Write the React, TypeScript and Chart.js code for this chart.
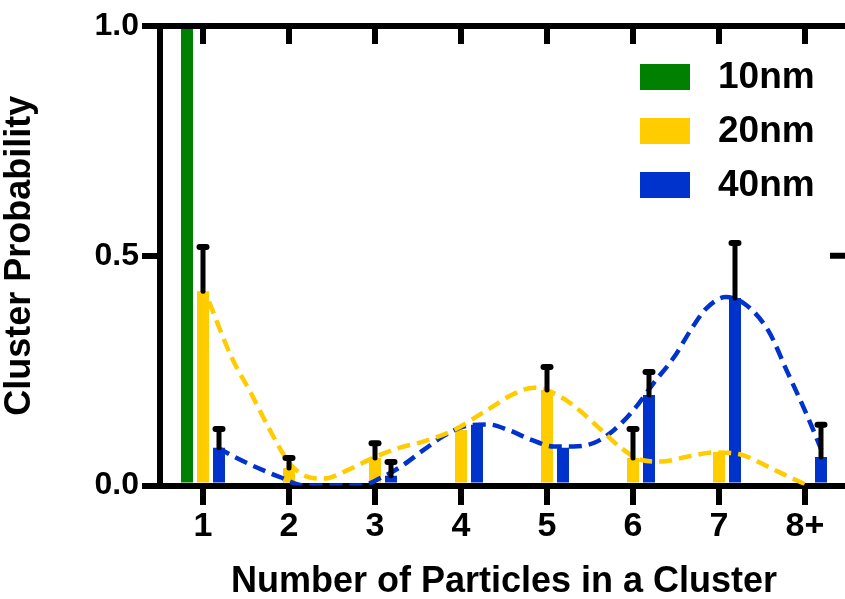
import React, { useEffect, useRef } from 'react';
import { Chart, registerables } from 'chart.js';

Chart.register(...registerables);

const categories = ['1', '2', '3', '4', '5', '6', '7', '8+'];
const categoryPositions = [1, 2, 3, 4, 5, 6, 7, 8];
const seriesLabels = ['10nm', '20nm', '40nm'];
const seriesColors = ['#008000', '#FFCC00', '#0033CC'];

const p10 = [1.0, 0, 0, 0, 0, 0, 0, 0];
const p20 = [0.423, 0.038, 0.06, 0.121, 0.208, 0.06, 0.073, 0];
const p40 = [0.082, 0, 0.021, 0.132, 0.082, 0.197, 0.408, 0.062];

const err10 = [0, 0, 0, 0, 0, 0, 0, 0];
const err20 = [0.096, 0.022, 0.032, 0, 0.05, 0.063, 0, 0];
const err40 = [0.041, 0, 0.03, 0, 0, 0.05, 0.12, 0.07];

const yTickValues = [0, 0.5, 1];
const yTickLabels = ['0.0', '0.5', '1.0'];

// Fitted (dashed) curves: x in category units (1 = first category), y = probability
const fit20X = [1.07, 1.33, 1.56, 1.78, 2.0, 2.2, 2.4, 2.7, 3.0, 3.3, 3.55, 3.92, 4.31, 4.62, 4.85, 5.16, 5.4, 5.63, 5.86, 6.09, 6.33, 6.64, 6.94, 7.26, 7.57, 7.8, 8.0];
const fit20Y = [0.4, 0.28, 0.2, 0.12, 0.05, 0.02, 0.015, 0.035, 0.062, 0.083, 0.095, 0.121, 0.165, 0.2, 0.213, 0.193, 0.16, 0.121, 0.082, 0.056, 0.052, 0.063, 0.072, 0.067, 0.041, 0.02, 0.003];

const fit40X = [1.17, 1.41, 1.64, 1.9, 2.17, 2.5, 2.84, 3.07, 3.3, 3.57, 3.8, 4.03, 4.31, 4.55, 4.81, 5.08, 5.31, 5.55, 5.78, 6.01, 6.24, 6.48, 6.67, 6.85, 7.08, 7.3, 7.57, 7.8, 8.03, 8.19];
const fit40Y = [0.082, 0.058, 0.038, 0.018, 0, 0, 0, 0.017, 0.041, 0.078, 0.108, 0.128, 0.133, 0.121, 0.1, 0.085, 0.085, 0.093, 0.121, 0.165, 0.223, 0.28, 0.338, 0.385, 0.41, 0.395, 0.338, 0.245, 0.15, 0.078];

const FONT = "'Liberation Sans', Arial, Helvetica, sans-serif";

const errorBarPlugin = {
  id: 'errorBars',
  afterDatasetsDraw(chart: any) {
    const ctx = chart.ctx;
    const y = chart.scales.y;
    chart.data.datasets.forEach((ds: any, i: number) => {
      if (!ds.errors) return;
      const meta = chart.getDatasetMeta(i);
      meta.data.forEach((el: any, j: number) => {
        const e = ds.errors[j];
        if (!e) return;
        const v = ds.data[j].y;
        const top = y.getPixelForValue(v + e);
        ctx.save();
        ctx.strokeStyle = '#000';
        ctx.lineCap = 'round';
        ctx.lineWidth = 5;
        ctx.beginPath();
        ctx.moveTo(el.x, el.y);
        ctx.lineTo(el.x, top);
        ctx.stroke();
        ctx.lineWidth = 6;
        ctx.beginPath();
        ctx.moveTo(el.x - 3.5, top);
        ctx.lineTo(el.x + 3.5, top);
        ctx.stroke();
        ctx.restore();
      });
    });
  },
};

const framePlugin = {
  id: 'frame',
  afterDraw(chart: any) {
    const ctx = chart.ctx;
    const { left, right } = chart.chartArea;
    const y = chart.scales.y;
    const x = chart.scales.x;
    const yTop = y.getPixelForValue(1);
    ctx.save();
    ctx.strokeStyle = '#000';
    ctx.lineWidth = 6;
    ctx.beginPath();
    ctx.moveTo(left - 18, yTop);
    ctx.lineTo(chart.width, yTop);
    ctx.stroke();
    categoryPositions.forEach((c) => {
      const px = x.getPixelForValue(c);
      ctx.beginPath();
      ctx.moveTo(px, yTop);
      ctx.lineTo(px, yTop + 18);
      ctx.stroke();
    });
    const yMid = y.getPixelForValue(0.5);
    ctx.beginPath();
    ctx.moveTo(right - 18, yMid);
    ctx.lineTo(right, yMid);
    ctx.stroke();
    ctx.restore();
  },
};

const legendPlugin = {
  id: 'customLegend',
  afterDraw(chart: any) {
    const ctx = chart.ctx;
    const bars = chart.data.datasets.filter((d: any) => d.type === 'bar');
    ctx.save();
    ctx.font = `bold 37px ${FONT}`;
    ctx.textBaseline = 'middle';
    ctx.textAlign = 'left';
    bars.forEach((d: any, i: number) => {
      const cy = 77 + i * 54;
      ctx.fillStyle = d.backgroundColor;
      ctx.fillRect(640, cy - 13, 50, 26);
      ctx.fillStyle = '#000';
      ctx.fillText(d.label, 718, cy + 1);
    });
    ctx.restore();
  },
};

export default function App() {
  const ref = useRef<HTMLCanvasElement | null>(null);

  useEffect(() => {
    if (!ref.current) return;
    Chart.defaults.font.family = FONT;
    const barBase = (label: string, data: number[], color: string, errors: number[]) => ({
      type: 'bar' as const,
      label,
      data: data.map((v, i) => ({ x: categoryPositions[i], y: v })),
      errors,
      backgroundColor: color,
      borderWidth: 0,
      barPercentage: 0.75,
      categoryPercentage: 0.558,
      order: 1,
    });
    const lineBase = (label: string, xs: number[], ys: number[], color: string) => ({
      type: 'line' as const,
      label,
      data: xs.map((xv, i) => ({ x: xv, y: ys[i] })),
      borderColor: color,
      borderWidth: 4.5,
      borderDash: [13, 7],
      pointRadius: 0,
      fill: false,
      cubicInterpolationMode: 'monotone' as const,
      order: 0,
    });
    const chart = new Chart(ref.current, {
      type: 'bar',
      data: {
        datasets: [
          lineBase('fit 20nm', fit20X, fit20Y, seriesColors[1]),
          lineBase('fit 40nm', fit40X, fit40Y, seriesColors[2]),
          barBase(seriesLabels[0], p10, seriesColors[0], err10),
          barBase(seriesLabels[1], p20, seriesColors[1], err20),
          barBase(seriesLabels[2], p40, seriesColors[2], err40),
        ] as any,
      },
      options: {
        animation: false,
        responsive: false,
        devicePixelRatio: 1,
        layout: { padding: { left: 0, top: 26, right: 12, bottom: 0 } },
        plugins: { legend: { display: false }, tooltip: { enabled: false } },
        scales: {
          x: {
            type: 'linear',
            min: 0.5,
            max: 8.5,
            offset: false,
            afterBuildTicks: (s: any) => {
              s.ticks = categoryPositions.map((v) => ({ value: v }));
            },
            grid: {
              offset: false,
              drawOnChartArea: false,
              drawTicks: true,
              tickLength: 19.5,
              tickWidth: 6,
              tickColor: '#000',
              color: '#000',
              lineWidth: 6,
            },
            border: { display: true, color: '#000', width: 6 },
            ticks: {
              color: '#000',
              font: { size: 34, weight: 'bold' },
              padding: 1,
              maxRotation: 0,
              autoSkip: false,
              callback: (v: any) => categories[categoryPositions.indexOf(Number(v))],
            },
            title: {
              display: true,
              text: 'Number of Particles in a Cluster',
              color: '#000',
              font: { size: 36, weight: 'bold', lineHeight: 1 },
              padding: { top: 0, bottom: -1 },
            },
            afterFit: (s: any) => {
              s.height = 113.5;
            },
          },
          y: {
            type: 'linear',
            min: 0,
            max: 1,
            afterBuildTicks: (s: any) => {
              s.ticks = yTickValues.map((v) => ({ value: v }));
            },
            grid: {
              drawOnChartArea: false,
              drawTicks: true,
              tickLength: 18,
              tickWidth: 6,
              tickColor: '#000',
              color: '#000',
              lineWidth: 6,
            },
            border: { display: true, color: '#000', width: 6 },
            ticks: {
              color: '#000',
              font: { size: 32, weight: 'bold' },
              padding: 3,
              callback: (v: any) => yTickLabels[yTickValues.indexOf(Number(v))],
            },
            title: {
              display: true,
              text: 'Cluster Probability',
              color: '#000',
              font: { size: 36, weight: 'bold', lineHeight: 1 },
              padding: { top: 2, bottom: 0 },
            },
            afterFit: (s: any) => {
              s.width = 160;
            },
          },
        },
      } as any,
      plugins: [errorBarPlugin, framePlugin, legendPlugin],
    });
    return () => chart.destroy();
  }, []);

  return (
    <div style={{ position: 'absolute', left: 0, top: 0, width: 845, height: 599, overflow: 'hidden', background: '#fff' }}>
      <canvas ref={ref} width={860} height={599} style={{ width: 860, height: 599, display: 'block' }} />
    </div>
  );
}
